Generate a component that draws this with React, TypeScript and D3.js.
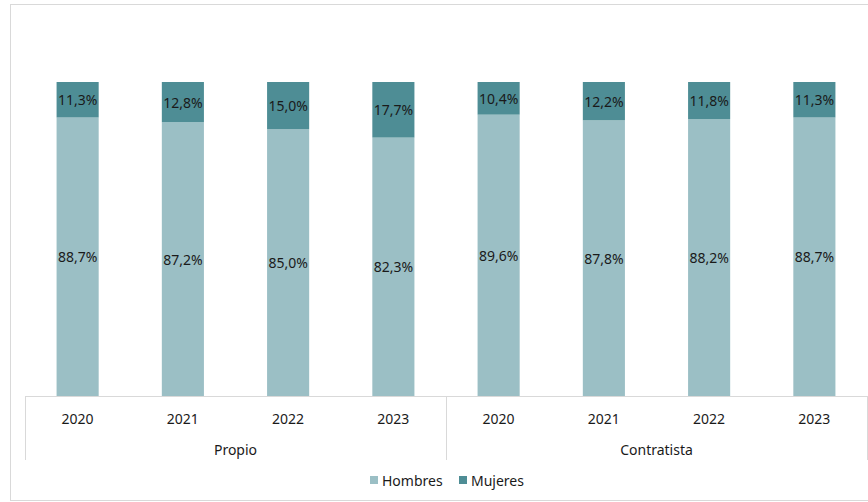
import React from "react";
import * as d3 from "d3";

const groups = ["Propio", "Contratista"];
const years = ["2020", "2021", "2022", "2023"];
const hombres = [88.7, 87.2, 85.0, 82.3, 89.6, 87.8, 88.2, 88.7];
const mujeres = [11.3, 12.8, 15.0, 17.7, 10.4, 12.2, 11.8, 11.3];
const seriesNames = ["Hombres", "Mujeres"];
const colors = ["#9BBFC5", "#4E8D95"];

const W = 868;
const H = 502;
const left = 25;
const right = 867;
const top = 82;
const bottom = 396;
const font = "'Noto Sans', sans-serif";

export default function App() {
  const cats = groups.flatMap((g) => years.map((y) => `${g}|${y}`));
  const x = d3.scaleBand().domain(cats).range([left, right]).paddingInner(0.6).paddingOuter(0.3);
  const xOuter = d3.scaleBand().domain(cats).range([left, right]);
  const y = d3.scaleLinear().domain([0, 100]).range([bottom, top]);
  const rows = cats.map((c, i) => ({ c, Hombres: hombres[i], Mujeres: mujeres[i] }));
  const stack = d3.stack<any>().keys(seriesNames)(rows);
  const fmt = (v: number) => v.toFixed(1).replace(".", ",") + "%";
  const groupW = xOuter.step() * years.length;

  return (
    <svg width={W} height={H} style={{ position: "absolute", left: 0, top: 0 }} fontFamily={font}>
      <rect x={10.5} y={4.5} width={870} height={496} fill="#fff" stroke="#d9d9d9" />
      {stack.map((s, si) =>
        s.map((d, i) => (
          <g key={`${si}-${i}`}>
            <rect
              x={x(cats[i])}
              y={y(d[1])}
              width={x.bandwidth()}
              height={y(d[0]) - y(d[1])}
              fill={colors[si]}
            />
            <text
              x={(x(cats[i]) as number) + x.bandwidth() / 2}
              y={(y(d[0]) + y(d[1])) / 2}
              textAnchor="middle"
              dominantBaseline="central"
              fontSize={14}
              fill="#1a1a1a"
            >
              {fmt(d[1] - d[0])}
            </text>
          </g>
        ))
      )}
      <line x1={left} x2={right} y1={bottom + 0.5} y2={bottom + 0.5} stroke="#d9d9d9" />
      {[0, 1, 2].map((k) => (
        <line
          key={k}
          x1={left + k * groupW + 0.5}
          x2={left + k * groupW + 0.5}
          y1={bottom}
          y2={460}
          stroke="#d9d9d9"
        />
      ))}
      {cats.map((c, i) => (
        <text
          key={c}
          x={(xOuter(c) as number) + xOuter.bandwidth() / 2}
          y={418}
          textAnchor="middle"
          dominantBaseline="central"
          fontSize={14}
          fill="#1a1a1a"
        >
          {years[i % years.length]}
        </text>
      ))}
      {groups.map((g, gi) => (
        <text
          key={g}
          x={left + gi * groupW + groupW / 2}
          y={449}
          textAnchor="middle"
          dominantBaseline="central"
          fontSize={14}
          fill="#1a1a1a"
        >
          {g}
        </text>
      ))}
      {seriesNames.map((n, i) => {
        const lx = [370, 459][i];
        return (
          <g key={n}>
            <rect x={lx} y={476} width={8} height={8} fill={colors[i]} />
            <text x={lx + 12} y={480} dominantBaseline="central" fontSize={14} fill="#1a1a1a">
              {n}
            </text>
          </g>
        );
      })}
    </svg>
  );
}
